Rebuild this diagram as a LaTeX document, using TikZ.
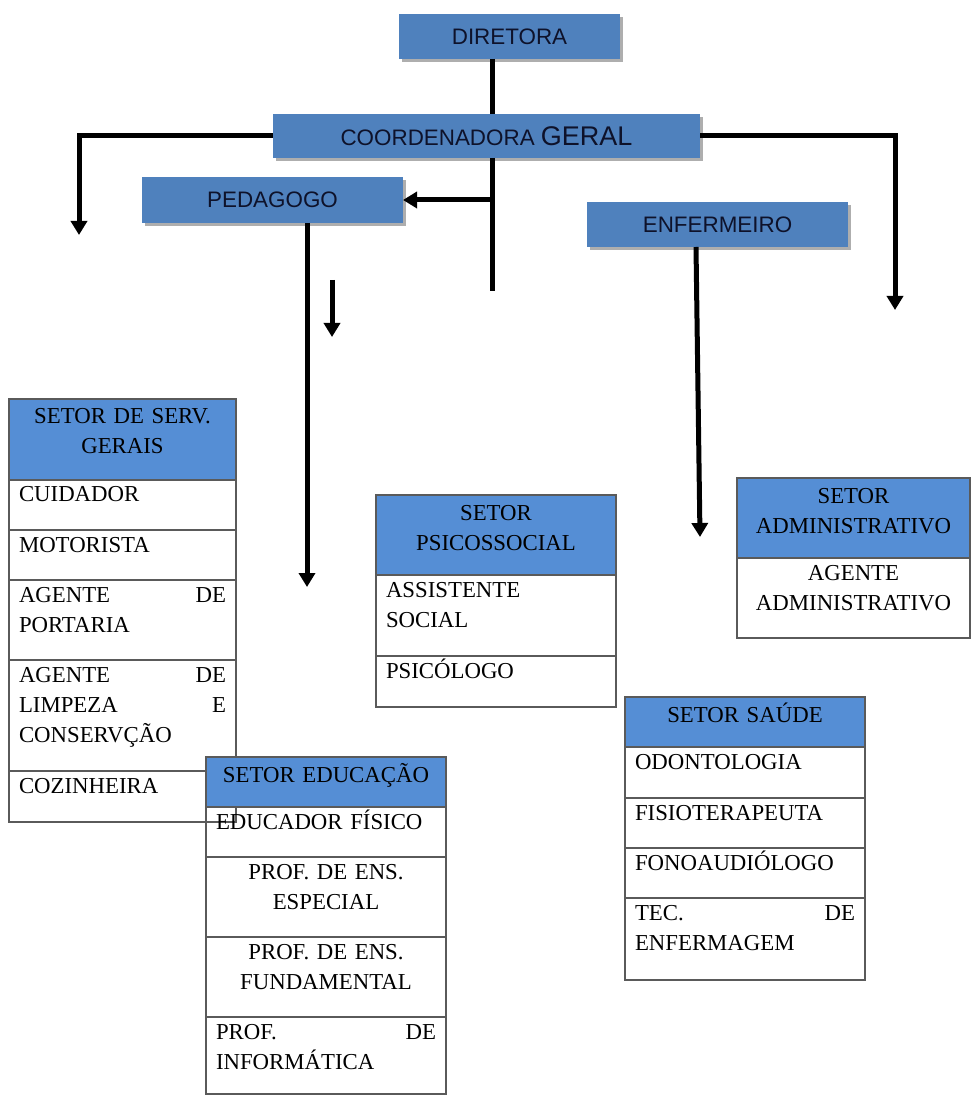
\documentclass[tikz,border=0pt]{standalone}
\usepackage{fontspec}
\setmainfont{Liberation Serif}
\newfontfamily\boxfont{Liberation Sans}
\usetikzlibrary{positioning}
\usetikzlibrary{arrows.meta}
\usetikzlibrary{shadows}
\definecolor{boxblue}{RGB}{79,129,189}
\definecolor{headblue}{RGB}{85,142,213}
\definecolor{boxink}{RGB}{14,18,42}
\definecolor{cellline}{RGB}{90,90,90}
\newcommand{\tabfont}{\fontsize{11.4}{15}\selectfont}
\newcommand{\spread}{\hskip 0pt plus 1filll\relax}
\tikzset{box/.style={fill=boxblue, anchor=north west, inner sep=0pt, outer sep=0pt,
    text=boxink, font=\boxfont\fontsize{11.2}{13}\selectfont,
    drop shadow={shadow xshift=1.5pt, shadow yshift=-1.5pt, fill=black!45, opacity=.7}}}
\tikzset{cell/.style={draw=cellline, line width=0.7pt, outer sep=0pt, anchor=north west,
    inner xsep=5pt, inner ysep=0pt, text height=11pt, align=left, font=\tabfont}}
\tikzset{head/.style={cell, fill=headblue, align=center, text height=12.5pt}}
\tikzset{rh/.style={text depth=#1}}
\tikzset{line/.style={line width=2.5pt}}
\tikzset{>={Triangle[width=8pt,length=7pt]}}

\begin{document}
\begin{tikzpicture}[x=0.5pt, y=-0.5pt]
    \useasboundingbox (0,0) rectangle (971,1095);
    % chefias
    \node[box, minimum width=110.5pt, minimum height=22.5pt] (dir) at (399,14) {DIRETORA};
    \node[box, minimum width=213.5pt, minimum height=22pt] (coord) at (273,114)
        {COORDENADORA {\fontsize{13.5}{15}\selectfont GERAL}};
    \node[box, minimum width=130.5pt, minimum height=23pt] (ped) at (142,177) {PEDAGOGO};
    \node[box, minimum width=130.5pt, minimum height=22.5pt] (enf) at (587,202) {ENFERMEIRO};

    \coordinate (cx) at (492,0);
    \coordinate (stub) at (492,291);
    \coordinate (lt) at (79,235);
    \coordinate (rt) at (895,310);
    \coordinate (pd) at (307,587);
    \coordinate (sa1) at (332,280);
    \coordinate (sa2) at (332,337);
    \coordinate (ex) at (696,0);
    \coordinate (ed) at (700,537);

    \draw[line] (dir.south -| cx) -- (coord.north -| cx);
    \draw[line] (coord.south -| cx) -- (stub);
    \draw[line,->] (ped.east -| cx) -- (ped.east);
    \draw[line,->] (coord.west) -| (lt);
    \draw[line,->] (coord.east) -| (rt);
    \draw[line,->] (ped.south -| pd) -- (pd);
    \draw[line,->] (sa1) -- (sa2);
    \draw[line,->] (enf.south -| ex) -- (ed);

    % setor de servicos gerais
    \begin{scope}[text width=103.5pt]
        \node[head, rh=28pt] (sg) at (9,399) {SETOR DE SERV.\\GERAIS};
        \node[cell, rh=14pt] (sg1) at (sg.south west) {CUIDADOR};
        \node[cell, rh=14pt] (sg2) at (sg1.south west) {MOTORISTA};
        \node[cell, rh=29pt] (sg3) at (sg2.south west) {AGENTE\spread DE\\PORTARIA};
        \node[cell, rh=44.5pt] (sg4) at (sg3.south west) {AGENTE\spread DE\\LIMPEZA\spread E\\CONSERVÇÃO};
        \node[cell, rh=14.5pt] (sg5) at (sg4.south west) {COZINHEIRA};
    \end{scope}

    % setor psicossocial
    \begin{scope}[text width=110pt]
        \node[head, rh=27.5pt] (ps) at (376,495) {SETOR\\PSICOSSOCIAL};
        \node[cell, rh=29.5pt] (ps1) at (ps.south west) {ASSISTENTE\\SOCIAL};
        \node[cell, rh=14.5pt] (ps2) at (ps1.south west) {PSICÓLOGO};
    \end{scope}

    % setor administrativo
    \begin{scope}[text width=106.5pt]
        \node[head, rh=27.5pt] (adm) at (737,478) {SETOR\\ADMINISTRATIVO};
        \node[cell, rh=29pt, align=center] (adm1) at (adm.south west) {AGENTE\\ADMINISTRATIVO};
    \end{scope}

    % setor saude
    \begin{scope}[text width=110pt]
        \node[head, rh=12.5pt] (sd) at (625,697) {SETOR SAÚDE};
        \node[cell, rh=14.5pt] (sd1) at (sd.south west) {ODONTOLOGIA};
        \node[cell, rh=14pt] (sd2) at (sd1.south west) {FISIOTERAPEUTA};
        \node[cell, rh=14pt] (sd3) at (sd2.south west) {FONOAUDIÓLOGO};
        \node[cell, rh=30pt] (sd4) at (sd3.south west) {TEC.\spread DE\\ENFERMAGEM};
    \end{scope}

    % setor educacao
    \begin{scope}[text width=110pt]
        \node[head, rh=12.5pt] (ed0) at (206,757) {SETOR EDUCAÇÃO};
        \node[cell, rh=14pt] (ed1) at (ed0.south west) {EDUCADOR FÍSICO};
        \node[cell, rh=29pt, align=center] (ed2) at (ed1.south west) {PROF. DE ENS.\\ESPECIAL};
        \node[cell, rh=29pt, align=center] (ed3) at (ed2.south west) {PROF. DE ENS.\\FUNDAMENTAL};
        \node[cell, rh=27.5pt] (ed4) at (ed3.south west) {PROF.\spread DE\\INFORMÁTICA};
    \end{scope}
\end{tikzpicture}
\end{document}
